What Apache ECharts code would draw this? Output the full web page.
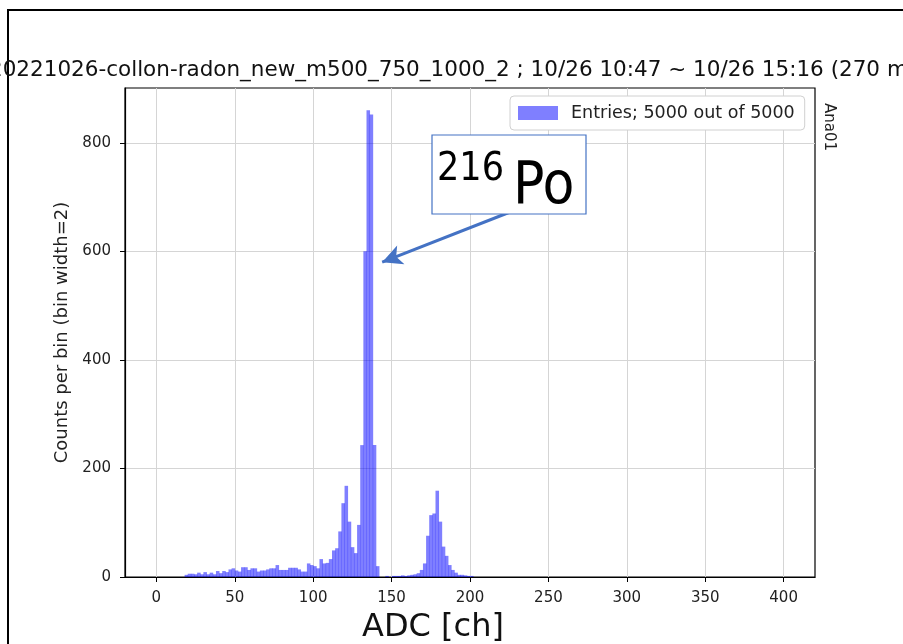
<!DOCTYPE html>
<html><head><meta charset="utf-8">
<script src="https://cdn.jsdelivr.net/npm/echarts@6/dist/echarts.min.js"></script>
<style>html,body{margin:0;padding:0;background:#fff}#c{width:903px;height:644px}</style>
</head><body><div id="c"></div><script>
const binWidth = 2;
const binStarts = [18,20,22,24,26,28,30,32,34,36,38,40,42,44,46,48,50,52,54,56,58,60,62,64,66,68,70,72,74,76,78,80,82,84,86,88,90,92,94,96,98,100,102,104,106,108,110,112,114,116,118,120,122,124,126,128,130,132,134,136,138,140,142,144,146,148,150,152,154,156,158,160,162,164,166,168,170,172,174,176,178,180,182,184,186,188,190,192,194,196,198,200];
const counts = [4,6,6,5,8,5,9,5,8,5,11,7,11,9,14,16,12,10,18,18,13,16,16,10,12,12,14,16,16,22,13,13,13,17,17,17,14,10,10,25,22,20,16,33,25,26,33,49,53,84,136,168,102,55,44,96,243,600,860,852,243,20,0,0,2,0,2,2,2,3,2,3,4,5,7,13,25,76,114,117,159,102,56,39,22,13,8,4,4,3,2,2];
const xTicks = [0,50,100,150,200,250,300,350,400];
const yTicks = [0,200,400,600,800];
const legendLabel = 'Entries; 5000 out of 5000';
const titleText = '20221026-collon-radon_new_m500_750_1000_2 ; 10/26 10:47 ~ 10/26 15:16 (270 min)';
const xName = 'ADC [ch]';
const yName = 'Counts per bin (bin width=2)';
const sideLabel = 'Ana01';
const arrowFrom = [226, 673];
const arrowTo = [144, 580];

const chart = echarts.init(document.getElementById('c'), null, {renderer: 'canvas'});
const data = binStarts.map((s, i) => [s, s + binWidth, counts[i]]);
const tickFont = {fontFamily: 'DejaVu Sans', fontSize: 15, color: '#222'};
const option = {
  animation: false,
  backgroundColor: '#fff',
  grid: {left: 125, top: 88, width: 690, height: 489, show: true, borderColor: '#000', borderWidth: 1.2, backgroundColor: 'transparent'},
  xAxis: {
    type: 'value', min: -20, max: 420,
    axisLine: {show: true, onZero: false, lineStyle: {color: '#000', width: 1.2}},
    axisTick: {show: true, inside: false, length: 5, customValues: xTicks, lineStyle: {color: '#000'}},
    axisLabel: {customValues: xTicks, margin: 14, ...tickFont},
    splitLine: {show: true, lineStyle: {color: '#d5d5d5', width: 1}}
  },
  yAxis: {
    type: 'value', min: 0, max: 901,
    name: yName, nameLocation: 'middle', nameGap: 54, nameRotate: 90,
    nameTextStyle: {fontFamily: 'DejaVu Sans', fontSize: 18, color: '#222'},
    axisLine: {show: true, onZero: false, lineStyle: {color: '#000', width: 1.2}},
    axisTick: {show: true, inside: false, length: 5, customValues: yTicks, lineStyle: {color: '#000'}},
    axisLabel: {customValues: yTicks, margin: 14, ...tickFont},
    splitLine: {show: true, lineStyle: {color: '#d5d5d5', width: 1}}
  },
  legend: {
    data: [{name: legendLabel, icon: 'rect'}],
    left: 510, top: 96, itemWidth: 40, itemHeight: 14, itemGap: 10,
    padding: [8, 10, 8, 8], borderColor: '#d0d0d0', borderWidth: 1, borderRadius: 4,
    backgroundColor: '#fff',
    itemStyle: {color: '#7f7fff'},
    textStyle: {fontFamily: 'DejaVu Sans', fontSize: 17.5, color: '#222', padding: [0, 0, 0, 8]}
  },
  series: [{
    type: 'custom', name: legendLabel,
    itemStyle: {color: '#7f7fff'},
    encode: {x: [0, 1], y: 2},
    data: data,
    renderItem: function (params, api) {
      const p0 = api.coord([api.value(0), 0]);
      const p1 = api.coord([api.value(1), api.value(2)]);
      return {type: 'rect', shape: {x: p0[0], y: p1[1], width: p1[0] - p0[0] + 0.4, height: p0[1] - p1[1]}, style: {fill: 'rgba(0,0,255,0.5)'}};
    },
    markLine: {
      silent: true, symbol: ['none', 'arrow'], symbolSize: [15, 20],
      lineStyle: {color: '#4472c4', width: 3, type: 'solid', opacity: 1},
      label: {show: false},
      data: [[{coord: arrowFrom}, {coord: arrowTo}]]
    }
  }],
  graphic: [
    {type: 'polyline', shape: {points: [[8, 644], [8, 10], [903, 10]]}, style: {stroke: '#000', lineWidth: 2, fill: null}},
    {type: 'text', x: -11, y: 70, style: {text: titleText, font: '21.5px "DejaVu Sans"', fill: '#111', textAlign: 'left', textVerticalAlign: 'middle'}},
    {type: 'text', x: 829, y: 127, rotation: -Math.PI / 2, style: {text: sideLabel, font: '15px "DejaVu Sans"', fill: '#222', textAlign: 'center', textVerticalAlign: 'middle'}},
    {type: 'text', x: 433, y: 628, style: {text: xName, font: '32px "DejaVu Sans"', fill: '#111', textAlign: 'center', textVerticalAlign: 'middle'}},
    {type: 'rect', shape: {x: 432, y: 135, width: 154, height: 79}, style: {fill: '#fff', stroke: '#4472c4', lineWidth: 1.2}, z: 10},
    {type: 'text', x: 437, y: 170, style: {text: '216', font: '39px "Liberation Sans Narrow", "DejaVu Sans Condensed", sans-serif', fill: '#000', textAlign: 'left', textVerticalAlign: 'middle'}, z: 11},
    {type: 'text', x: 513, y: 188, style: {text: 'Po', font: '58px "Liberation Sans Narrow", "DejaVu Sans Condensed", sans-serif', fill: '#000', textAlign: 'left', textVerticalAlign: 'middle'}, z: 11}
  ]
};
chart.setOption(option);
</script></body></html>
